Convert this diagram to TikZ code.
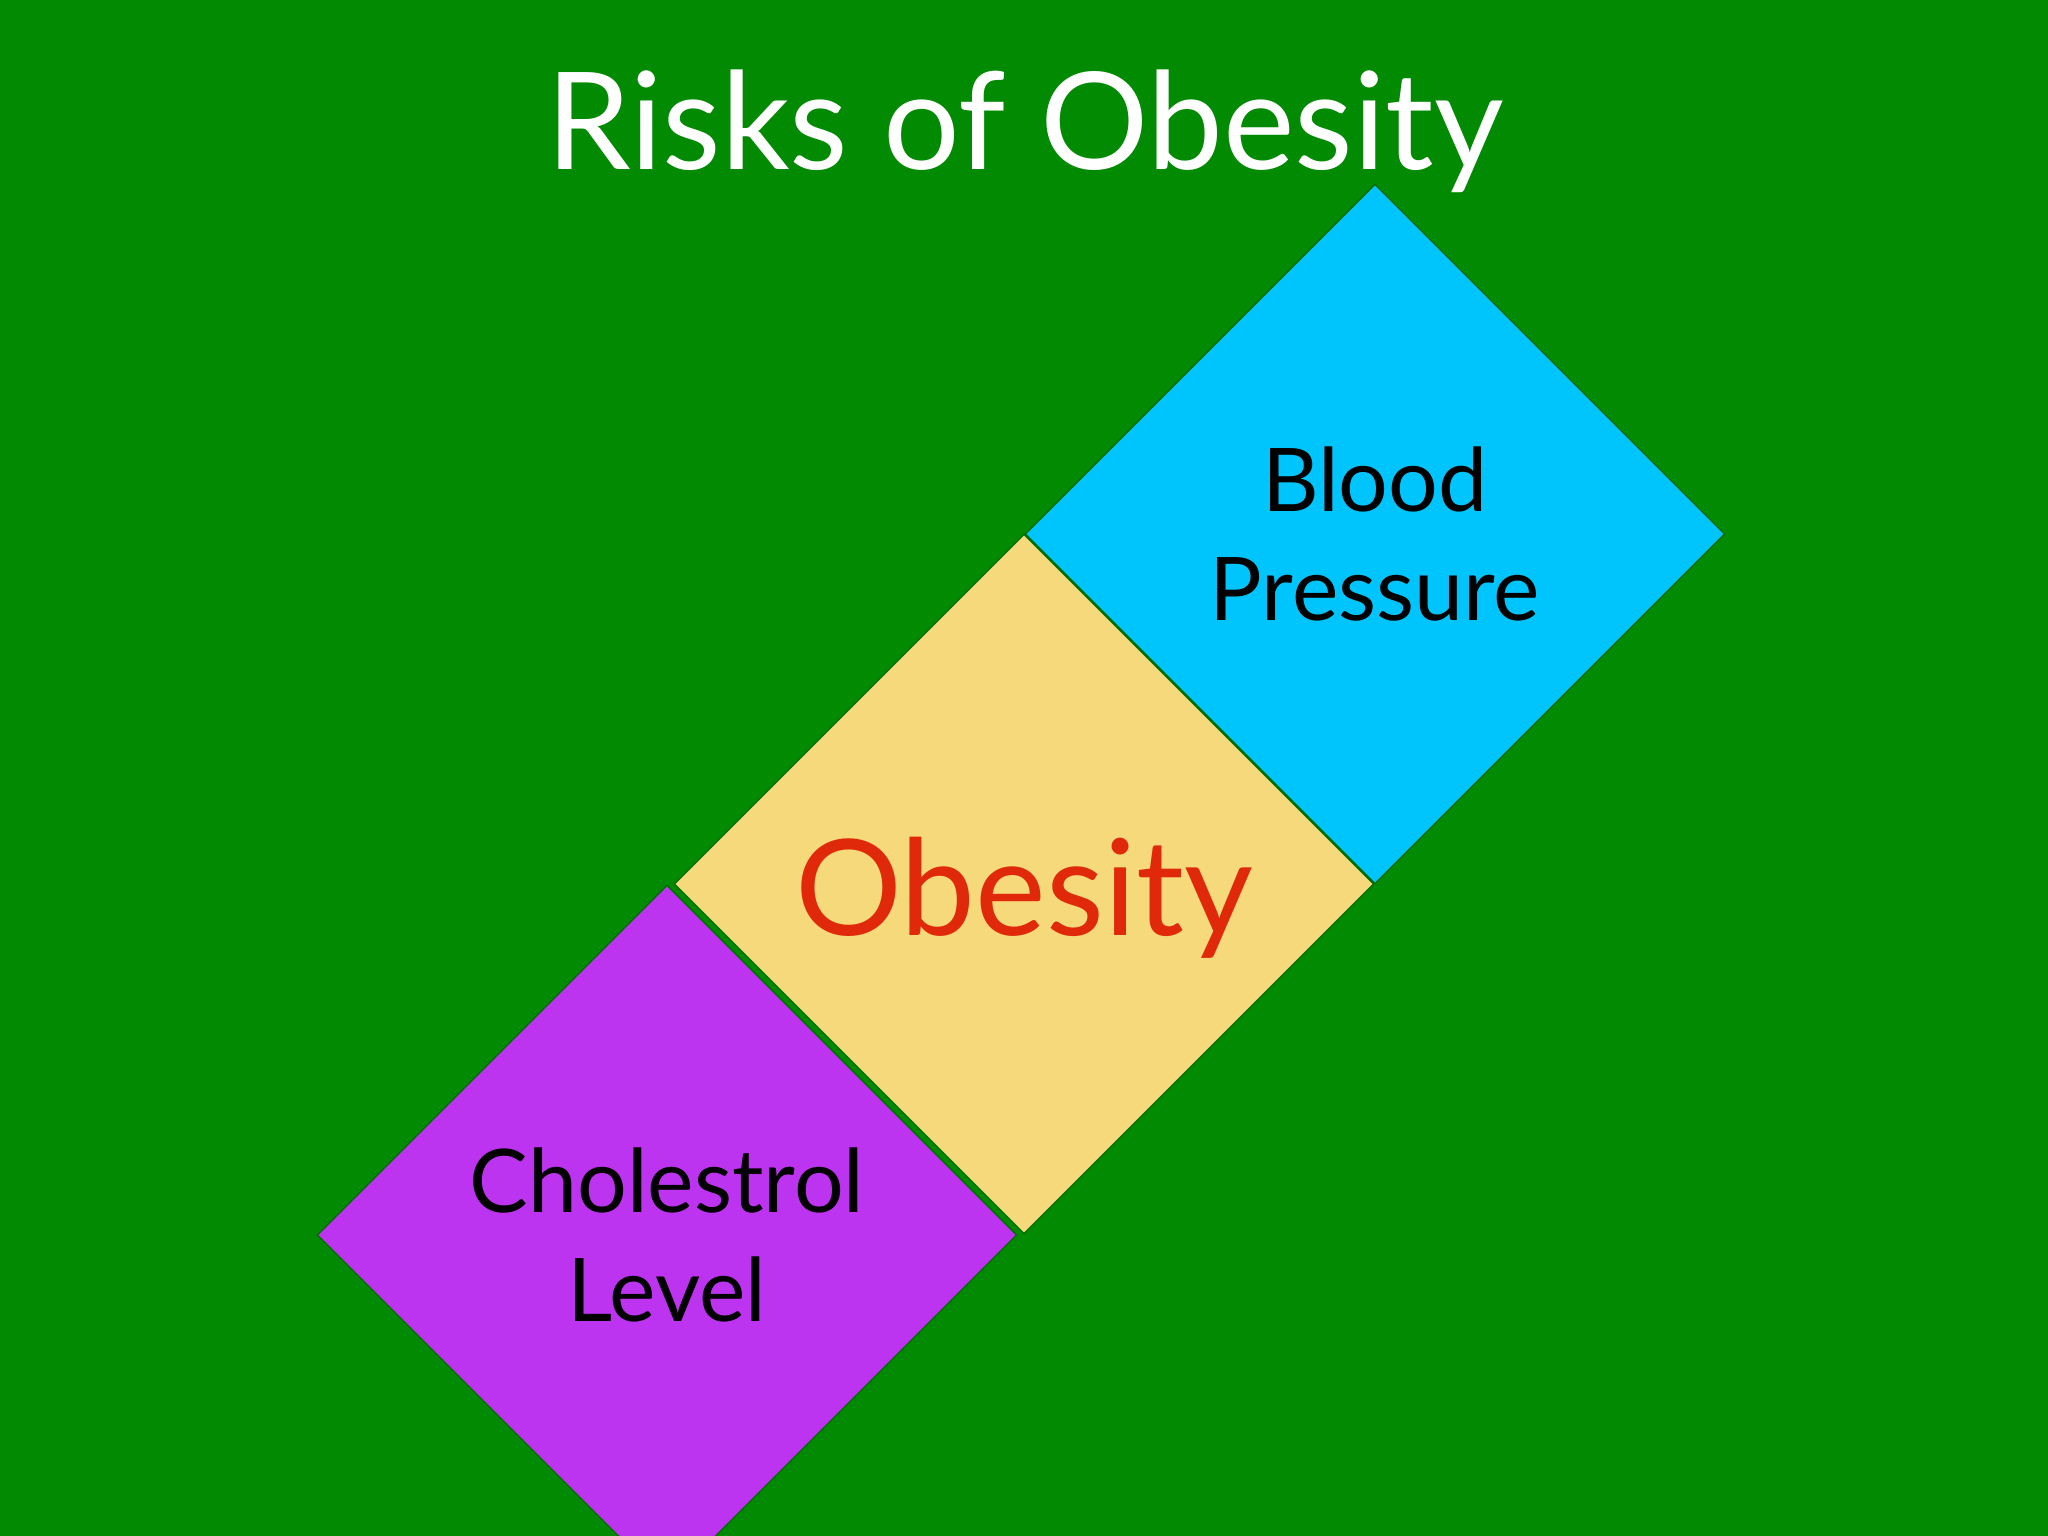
\documentclass[tikz,border=0pt]{standalone}
\usepackage{fontspec}
\setmainfont{Lato}
\usetikzlibrary{shapes.geometric}

\definecolor{slidegreen}{RGB}{3,138,3}
\definecolor{bpblue}{RGB}{0,197,253}
\definecolor{obyellow}{RGB}{245,217,122}
\definecolor{chpurple}{RGB}{189,52,240}
\definecolor{obred}{RGB}{224,40,10}

\tikzset{
  riskbox/.style={diamond, aspect=1, minimum width=7cm, minimum height=7cm,
    inner sep=0pt, draw=slidegreen!80!black, line width=0.4pt, align=center,
    font=\fontsize{25}{31}\selectfont, text=black}
}

\begin{document}
\begin{tikzpicture}
\useasboundingbox (0,0) rectangle (20.48,-15.36);
\clip (0,0) rectangle (20.48,-15.36);
\fill [slidegreen] (0,0) rectangle (20.48,-15.36);

\node (title) at (10.25,-1.31) [text=white, font=\fontsize{38.5}{46}\selectfont] {Risks of Obesity};

\node (bp) at (13.75,-5.34) [riskbox, fill=bpblue] {Blood\\Pressure};
\node (ob) at (10.24,-8.84) [riskbox, fill=obyellow, text=obred,
  font=\fontsize{38}{46}\selectfont] {\raisebox{-1.4mm}[\height][\depth]{Obesity}};
\node (chol) at (6.67,-12.35) [riskbox, fill=chpurple] {Cholestrol\\Level};
\end{tikzpicture}
\end{document}
